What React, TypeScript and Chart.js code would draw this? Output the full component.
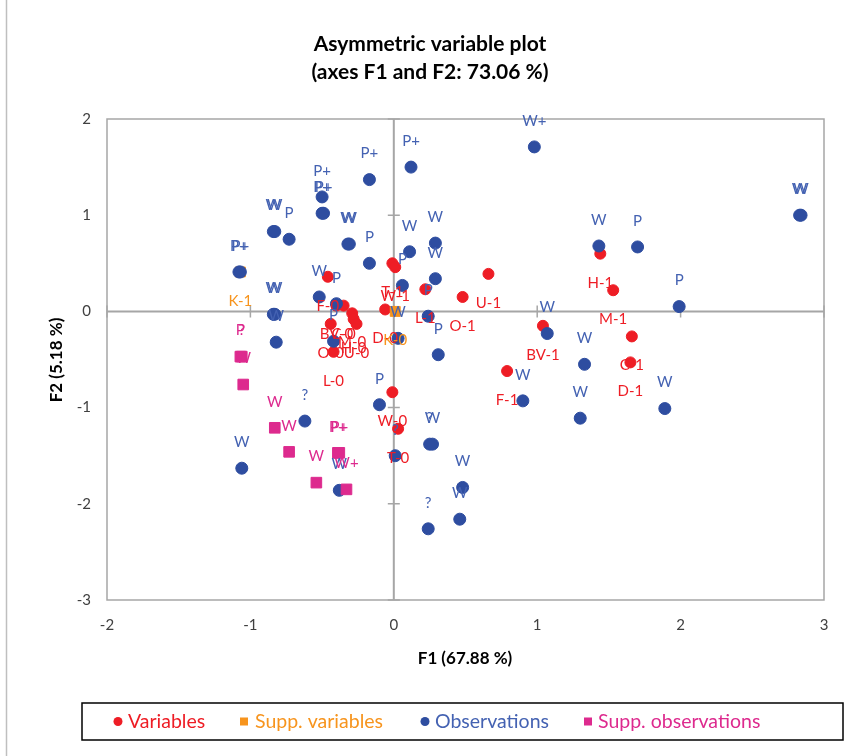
import React, { useEffect, useRef } from "react";
import { Chart, registerables } from "chart.js";
Chart.register(...registerables);

// ---- Variables (red) ----
const varLabels = ["T-1", "W-1", "U-1", "O-1", "L-1", "H-1", "M-1", "BV-1", "C-1", "D-1", "F-1",
  "F-0", "BV-0", "C-0", "M-0", "H-0", "U-0", "O-0", "L-0", "D-0", "W-0", "T-0"];
const varX = [-0.01, 0.01, 0.66, 0.48, 0.22, 1.44, 1.53, 1.04, 1.66, 1.65, 0.79,
  -0.46, -0.40, -0.35, -0.29, -0.28, -0.26, -0.44, -0.42, -0.06, -0.01, 0.03];
const varY = [0.50, 0.46, 0.39, 0.15, 0.23, 0.60, 0.22, -0.15, -0.26, -0.53, -0.62,
  0.36, 0.06, 0.06, -0.02, -0.08, -0.13, -0.13, -0.42, 0.02, -0.84, -1.22];

// ---- Supplementary variables (orange) ----
const suppVarLabels = ["K-1", "K-0"];
const suppVarX = [-1.07, 0.01];
const suppVarY = [0.41, 0.0];

// ---- Observations (blue) ----
const obsLabels = ["W+", "P+", "P+", "P+", "P+", "P+", "W", "W", "P", "W", "W", "P", "W", "W", "W", "P",
  "P+", "P+", "W", "W", "W", "W", "P", "P", "P", "P", "W", "W", "W", "W", "W", "W", "P", "P", "W", "W",
  "W", "?", "W", "W", "W", "?", "P", "?", "?", "W", "W"];
const obsX = [0.98, 0.12, -0.17, -0.50, -0.50, -0.49, -0.84, -0.83, -0.73, -0.32, -0.31, -0.17, 0.29, 0.11, 0.29, 0.06,
  -1.08, -1.07, -0.84, -0.83, -0.82, -0.52, -0.40, -0.42, 0.24, 0.31, 0.03, 1.07, 1.33, 1.30, 1.89, 1.43, 1.70, 1.99, 2.83, 2.84,
  0.90, 0.25, 0.27, 0.48, 0.46, 0.24, -0.10, 0.01, -0.62, -1.06, -0.38];
const obsY = [1.71, 1.50, 1.37, 1.19, 1.02, 1.02, 0.83, 0.83, 0.75, 0.70, 0.70, 0.50, 0.71, 0.62, 0.34, 0.27,
  0.41, 0.41, -0.03, -0.03, -0.32, 0.15, 0.08, -0.31, -0.05, -0.45, -0.28, -0.23, -0.55, -1.11, -1.01, 0.68, 0.67, 0.05, 1.00, 1.00,
  -0.93, -1.38, -1.38, -1.83, -2.16, -2.26, -0.97, -1.50, -1.14, -1.63, -1.86];

// ---- Supplementary observations (magenta) ----
const suppObsLabels = ["?", "P", "W", "W", "W", "P+", "P+", "W", "W+"];
const suppObsX = [-1.06, -1.07, -1.05, -0.83, -0.73, -0.39, -0.38, -0.54, -0.33];
const suppObsY = [-0.47, -0.47, -0.76, -1.21, -1.46, -1.47, -1.47, -1.78, -1.85];

// ---- Axis ticks ----
const xTicks = [-2, -1, 0, 1, 2, 3];
const yTicks = [-3, -2, -1, 0, 1, 2];

const RED = "#EE1D25";
const ORANGE = "#F7941D";
const BLUE = "#2E4DA0";
const BLUE_TXT = "#4462B2";
const MAGENTA = "#DD2A8E";
const FONT = "Lato, 'Open Sans', sans-serif";

const toPts = (xs: number[], ys: number[]) => xs.map((x, i) => ({ x, y: ys[i] }));

export default function App() {
  const ref = useRef<HTMLCanvasElement | null>(null);
  useEffect(() => {
    if (!ref.current) return;
    const labelSets = [varLabels, suppVarLabels, obsLabels, suppObsLabels];
    const labelColors = [RED, ORANGE, BLUE_TXT, MAGENTA];
    const labelOffsets = [29, 29, -26, -26];

    const framePlugin = {
      id: "frame",
      beforeDraw(chart: any) {
        const c = chart.ctx;
        c.save();
        c.fillStyle = "#fff";
        c.fillRect(0, 0, chart.width, chart.height);
        c.strokeStyle = "#BFBFBF";
        c.lineWidth = 1.5;
        c.beginPath();
        c.moveTo(6.5, 0);
        c.lineTo(6.5, chart.height);
        c.stroke();
        c.restore();
      },
      beforeDatasetsDraw(chart: any) {
        const c = chart.ctx;
        const a = chart.chartArea;
        const xs = chart.scales.x;
        const ys = chart.scales.y;
        c.save();
        c.strokeStyle = "#A6A6A6";
        c.lineWidth = 1.5;
        c.strokeRect(a.left, a.top, a.right - a.left, a.bottom - a.top);
        const x0 = xs.getPixelForValue(0);
        const y0 = ys.getPixelForValue(0);
        c.lineWidth = 2;
        c.beginPath();
        c.moveTo(x0, a.top);
        c.lineTo(x0, a.bottom);
        c.moveTo(a.left, y0);
        c.lineTo(a.right, y0);
        c.stroke();
        c.lineWidth = 1.5;
        c.beginPath();
        xTicks.forEach((t) => {
          const px = xs.getPixelForValue(t);
          c.moveTo(px, y0 - 6);
          c.lineTo(px, y0 + 6);
        });
        yTicks.forEach((t) => {
          const py = ys.getPixelForValue(t);
          c.moveTo(x0 - 6, py);
          c.lineTo(x0 + 6, py);
        });
        c.stroke();
        c.restore();
      },
      afterDatasetsDraw(chart: any) {
        const c = chart.ctx;
        c.save();
        c.font = `15px ${FONT}`;
        c.textAlign = "center";
        c.textBaseline = "middle";
        labelSets.forEach((labels, di) => {
          const meta = chart.getDatasetMeta(di);
          c.fillStyle = labelColors[di];
          meta.data.forEach((el: any, j: number) => {
            c.fillText(labels[j], el.x, el.y + labelOffsets[di]);
          });
        });
        c.restore();
      },
      afterDraw(chart: any) {
        const c = chart.ctx;
        c.save();
        c.fillStyle = "#000";
        c.textAlign = "center";
        c.textBaseline = "middle";
        c.font = `bold 21px ${FONT}`;
        c.fillText("Asymmetric variable plot", 430, 44);
        c.fillText("(axes F1 and F2: 73.06 %)", 430, 72);
        c.font = `bold 17px ${FONT}`;
        c.fillText("F1 (67.88 %)", 465, 659);
        c.save();
        c.translate(57, 360);
        c.rotate(-Math.PI / 2);
        c.fillText("F2 (5.18 %)", 0, 0);
        c.restore();
        // legend
        c.strokeStyle = "#000";
        c.lineWidth = 1.5;
        c.strokeRect(82, 703, 761, 37);
        const ly = 721.5;
        c.font = `19.5px ${FONT}`;
        c.textAlign = "left";
        const items = [
          { t: "Variables", col: RED, sq: false, mx: 118, tx: 128 },
          { t: "Supp. variables", col: ORANGE, sq: true, mx: 244, tx: 255 },
          { t: "Observations", col: BLUE, sq: false, mx: 425, tx: 435 },
          { t: "Supp. observations", col: MAGENTA, sq: true, mx: 588, tx: 598 },
        ];
        items.forEach((it) => {
          c.fillStyle = it.col;
          if (it.sq) {
            c.fillRect(it.mx - 4, ly - 4, 8, 8);
          } else {
            c.beginPath();
            c.arc(it.mx, ly, 4.5, 0, Math.PI * 2);
            c.fill();
          }
          c.fillStyle = it.col === BLUE ? BLUE_TXT : it.col;
          c.fillText(it.t, it.tx, ly);
        });
        c.restore();
      },
    };

    const chart = new Chart(ref.current, {
      type: "scatter",
      data: {
        datasets: [
          { label: "Variables", data: toPts(varX, varY), backgroundColor: RED, borderColor: RED, pointRadius: 5.5, pointStyle: "circle", order: 4 },
          { label: "Supp. variables", data: toPts(suppVarX, suppVarY), backgroundColor: ORANGE, borderColor: ORANGE, pointRadius: 7, pointStyle: "rect", order: 3 },
          { label: "Observations", data: toPts(obsX, obsY), backgroundColor: BLUE, borderColor: BLUE, pointRadius: 6, pointStyle: "circle", order: 2 },
          { label: "Supp. observations", data: toPts(suppObsX, suppObsY), backgroundColor: MAGENTA, borderColor: MAGENTA, pointRadius: 7.5, pointStyle: "rect", order: 1 },
        ],
      },
      options: {
        animation: false,
        responsive: false,
        maintainAspectRatio: false,
        layout: { padding: { left: 0, right: 24, top: 119, bottom: 116 } },
        plugins: { legend: { display: false }, title: { display: false }, tooltip: { enabled: false } },
        scales: {
          x: {
            type: "linear",
            min: -2,
            max: 3,
            afterFit: (s: any) => { s.height = 40; },
            afterBuildTicks: (s: any) => { s.ticks = xTicks.map((v) => ({ value: v })); },
            grid: { display: false, drawTicks: false },
            border: { display: false },
            ticks: { padding: 16, color: "#404040", font: { family: FONT, size: 15 } },
          },
          y: {
            type: "linear",
            min: -3,
            max: 2,
            afterFit: (s: any) => { s.width = 107; },
            afterBuildTicks: (s: any) => { s.ticks = yTicks.map((v) => ({ value: v })); },
            grid: { display: false, drawTicks: false },
            border: { display: false },
            ticks: { padding: 16, color: "#404040", font: { family: FONT, size: 15 } },
          },
        },
      },
      plugins: [framePlugin],
    } as any);
    return () => chart.destroy();
  }, []);

  return (
    <div style={{ position: "fixed", left: 0, top: 0, width: 848, height: 756, background: "#fff" }}>
      <canvas ref={ref} width={848} height={756} style={{ width: 848, height: 756, display: "block" }} />
    </div>
  );
}
